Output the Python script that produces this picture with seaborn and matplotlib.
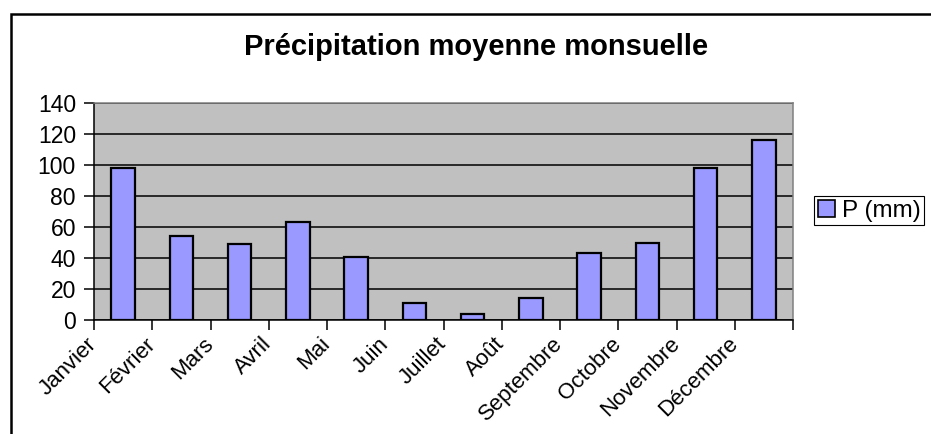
import matplotlib
matplotlib.use('Agg')
import matplotlib.pyplot as plt
import matplotlib.transforms as mtransforms
import numpy as np
import seaborn as sns
from matplotlib.patches import Patch, Rectangle

# Données
mois = ['Janvier', 'Février', 'Mars', 'Avril', 'Mai', 'Juin', 'Juillet',
        'Août', 'Septembre', 'Octobre', 'Novembre', 'Décembre']
precip = [98, 54, 49, 63, 40.5, 11, 4, 14.5, 43, 50, 98, 116]
y_ticks = [0, 20, 40, 60, 80, 100, 120, 140]
serie = 'P (mm)'
titre = 'Précipitation moyenne monsuelle'

sns.set_style('white')
plt.rcParams['font.family'] = ['Liberation Sans', 'DejaVu Sans']
plt.rcParams['text.color'] = 'black'
plt.rcParams['xtick.color'] = 'black'
plt.rcParams['ytick.color'] = 'black'

fig = plt.figure(figsize=(9.31, 4.34), dpi=100)
ax = fig.add_axes([94 / 931, 114 / 434, 699 / 931, 217 / 434])
ax.set_facecolor('#C0C0C0')

# Barres
sns.barplot(x=mois, y=precip, color='#9999FF', width=0.4, saturation=1,
            edgecolor='black', linewidth=1.6, ax=ax, zorder=3)

# Axe y
ax.set_ylim(0, 140)
ax.set_yticks(y_ticks)
ax.set_yticklabels([str(v) for v in y_ticks], fontsize=16.5)
ax.yaxis.grid(True, color='black', linewidth=1.1, zorder=1)
ax.set_axisbelow(True)

# Axe x : graduations entre les catégories, étiquettes à 45°
ax.set_xlim(-0.5, len(mois) - 0.5)
ax.set_xticks(np.arange(len(mois) + 1) - 0.5)
ax.set_xticklabels(mois + [''], fontsize=16, rotation=45,
                   ha='right', va='center', rotation_mode='anchor')
decal = mtransforms.ScaledTranslation(6 / 100, 4 / 100, fig.dpi_scale_trans)
for lab in ax.get_xticklabels():
    lab.set_transform(lab.get_transform() + decal)
ax.tick_params(axis='both', direction='out', length=7, width=1.1,
               color='black', left=True, bottom=True)
ax.tick_params(axis='x', pad=8)
ax.tick_params(axis='y', pad=6)
ax.set_xlabel('')
ax.set_ylabel('')

for side in ['left', 'bottom']:
    ax.spines[side].set_color('black')
    ax.spines[side].set_linewidth(1.1)
for side in ['top', 'right']:
    ax.spines[side].set_color('#808080')
    ax.spines[side].set_linewidth(1.1)

fig.text(476 / 931, 1 - 47 / 434, titre, ha='center', va='center',
         fontsize=21, fontweight='bold', color='black')

# Légende
handle = Patch(facecolor='#9999FF', edgecolor='black', linewidth=1.2)
leg = fig.legend([handle], [serie], loc='upper left',
                 bbox_to_anchor=(814 / 931, 1 - 196 / 434), fontsize=17.5,
                 frameon=True, fancybox=False, framealpha=1,
                 edgecolor='black', handlelength=0.7, handleheight=0.7,
                 handletextpad=0.3, borderpad=0.15, borderaxespad=0)
leg.get_frame().set_linewidth(0.8)

# Cadre du graphique
fig.add_artist(Rectangle((11 / 931, -0.2), 1.2, 1 - 14 / 434 + 0.2,
                         transform=fig.transFigure, fill=False,
                         edgecolor='black', linewidth=1.8))

fig.savefig('out.png', dpi=100)
